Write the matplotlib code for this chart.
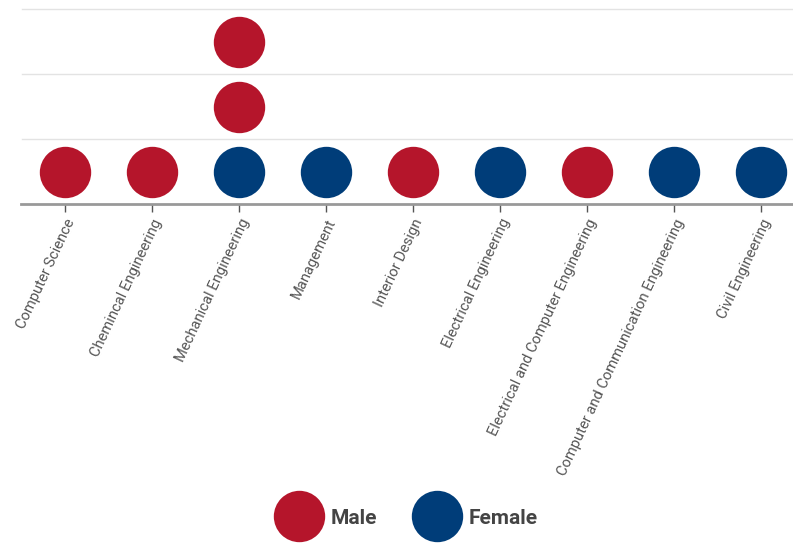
import matplotlib
matplotlib.use("Agg")
import matplotlib.pyplot as plt
from matplotlib.lines import Line2D

categories = ["Computer Science", "Chemincal Engineering", "Mechanical Engineering",
              "Management", "Interior Design", "Electrical Engineering",
              "Electrical and Computer Engineering",
              "Computer and Communication Engineering", "Civil Engineering"]
female = [0, 0, 1, 1, 0, 1, 0, 1, 1]
male = [1, 1, 2, 0, 1, 0, 1, 0, 0]

RED = "#B5152B"
BLUE = "#003D79"

W, H = 793, 543
fig = plt.figure(figsize=(W / 100, H / 100), dpi=100)
left_px, right_px, top_px, bot_px = 21.5, 793, 9, 204
ax = fig.add_axes([left_px / W, (H - bot_px) / H, (right_px - left_px) / W, (bot_px - top_px) / H])

xs_f, ys_f, xs_m, ys_m = [], [], [], []
for i, (f, m) in enumerate(zip(female, male)):
    for k in range(f):
        xs_f.append(i); ys_f.append(k + 0.5)
    for k in range(m):
        xs_m.append(i); ys_m.append(f + k + 0.5)

ms = 37
ax.scatter(xs_f, ys_f, s=ms ** 2, color=BLUE, zorder=3, linewidths=0)
ax.scatter(xs_m, ys_m, s=ms ** 2, color=RED, zorder=3, linewidths=0)

for yv in [1, 2, 3]:
    ax.axhline(yv, color="#e3e3e3", lw=1, zorder=1, clip_on=False)

ax.set_xlim(-0.5, (right_px - left_px) / 87 - 0.5)
ax.set_ylim(0, 3)
ax.set_yticks([])
ax.set_xticks(range(len(categories)))
ax.set_xticklabels(categories, rotation=65, ha="right", va="top", rotation_mode="anchor",
                   fontsize=10.6, color="#555555", family=["Roboto", "DejaVu Sans"])
ax.tick_params(axis="x", length=6, width=1, color="#555555", pad=3)
for s in ["top", "right", "left"]:
    ax.spines[s].set_visible(False)
ax.spines["bottom"].set_color("#999999")
ax.spines["bottom"].set_linewidth(2)

handles = [Line2D([], [], marker="o", ls="", markersize=37, color=RED, markeredgewidth=0),
           Line2D([], [], marker="o", ls="", markersize=37, color=BLUE, markeredgewidth=0)]
leg = fig.legend(handles, ["Male", "Female"], loc="center", bbox_to_anchor=(408 / W, 1 - 518 / H),
                 ncol=2, frameon=False, handletextpad=0.5, columnspacing=1.9,
                 prop={"family": ["Roboto", "DejaVu Sans"], "weight": "bold", "size": 15})
for t in leg.get_texts():
    t.set_color("#444444")

fig.savefig("out.png", dpi=100)
